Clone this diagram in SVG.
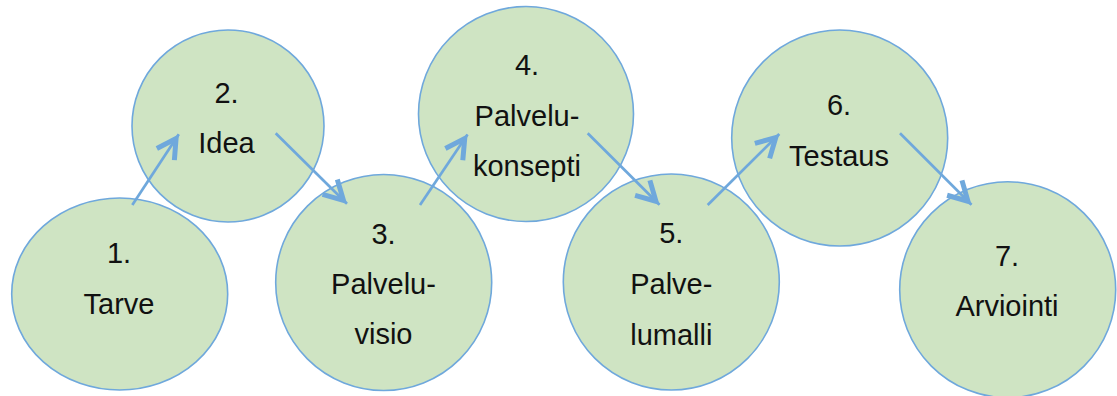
<svg xmlns="http://www.w3.org/2000/svg" width="1117" height="396" viewBox="0 0 1117 396">
<style>
.n{fill:#cfe4c3;stroke:#6fa8dc;stroke-width:1.6}
.t{font-family:"Liberation Sans",Arial,sans-serif;font-size:29px;fill:#111;text-anchor:middle}
.c{stroke:#6fa8dc;stroke-width:2.7;fill:none;marker-end:url(#ah)}
</style>
<defs>
<marker id="ah" markerUnits="userSpaceOnUse" viewBox="-30 -15 40 30" refX="0" refY="0" markerWidth="40" markerHeight="30" orient="auto">
<path d="M -24,-10.5 L -5,0 L -24,10.5" fill="none" stroke="#6fa8dc" stroke-width="5" stroke-linejoin="miter" stroke-linecap="butt"/>
</marker>
</defs>
<rect width="1117" height="396" fill="#fff"/>
<g id="node2"><circle class="n" cx="228" cy="126" r="96"/><text class="t" x="226.5" y="103">2.</text><text class="t" x="226.5" y="153">Idea</text></g>
<g id="node4"><circle class="n" cx="526" cy="114" r="107.5"/><text class="t" x="527" y="75">4.</text><text class="t" x="527" y="126">Palvelu-</text><text class="t" x="527" y="176">konsepti</text></g>
<g id="node6"><circle class="n" cx="839.7" cy="138" r="108"/><text class="t" x="839" y="115">6.</text><text class="t" x="839" y="166">Testaus</text></g>
<g id="node1"><ellipse class="n" cx="119.7" cy="294" rx="108" ry="96"/><text class="t" x="119" y="263">1.</text><text class="t" x="119" y="314">Tarve</text></g>
<g id="node3"><circle class="n" cx="383.7" cy="282.5" r="108"/><text class="t" x="383.5" y="244">3.</text><text class="t" x="383.5" y="294">Palvelu-</text><text class="t" x="383.5" y="344">visio</text></g>
<g id="node5"><circle class="n" cx="671.3" cy="282" r="108"/><text class="t" x="671.3" y="243">5.</text><text class="t" x="671.3" y="294">Palve-</text><text class="t" x="671.3" y="345">lumalli</text></g>
<g id="node7"><circle class="n" cx="1007.7" cy="289.7" r="108"/><text class="t" x="1007" y="266">7.</text><text class="t" x="1007" y="316">Arviointi</text></g>
<g id="connectors">
<line class="c" x1="132.3" y1="205" x2="178.8" y2="134.3"/>
<line class="c" x1="275.7" y1="133.3" x2="347" y2="203.8"/>
<line class="c" x1="420" y1="205" x2="467.5" y2="134.5"/>
<line class="c" x1="587.7" y1="133.3" x2="659.5" y2="204.8"/>
<line class="c" x1="707.7" y1="205" x2="779.3" y2="134"/>
<line class="c" x1="900" y1="133.3" x2="971.5" y2="204.8"/>
</g>
</svg>
